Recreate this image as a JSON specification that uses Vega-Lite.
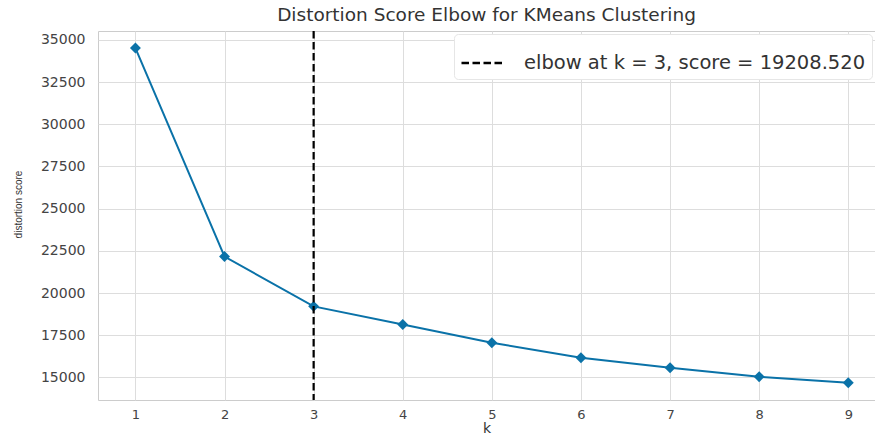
{
  "$schema": "https://vega.github.io/schema/vega-lite/v6.json",
  "autosize": "none",
  "width": 777,
  "height": 369,
  "padding": {"left": 98, "top": 31, "right": 0, "bottom": 35},
  "background": "white",
  "config": {
    "font": "DejaVu Sans",
    "view": {"stroke": "#cccccc", "strokeWidth": 1},
    "axis": {
      "gridColor": "#dddddd",
      "gridWidth": 1,
      "domain": false,
      "ticks": false,
      "labelFontSize": 14,
      "labelColor": "#444444",
      "titleColor": "#333333",
      "titleFontWeight": "normal"
    }
  },
  "title": {
    "text": "Distortion Score Elbow for KMeans Clustering",
    "fontSize": 18.5,
    "fontWeight": "normal",
    "color": "#333333",
    "offset": 5
  },
  "layer": [
    {
      "data": {"values": [
        {"k": 1, "score": 34520},
        {"k": 2, "score": 22160},
        {"k": 3, "score": 19208.52},
        {"k": 4, "score": 18130},
        {"k": 5, "score": 17050},
        {"k": 6, "score": 16160},
        {"k": 7, "score": 15570},
        {"k": 8, "score": 15040},
        {"k": 9, "score": 14680}
      ]},
      "mark": {
        "type": "line",
        "color": "#0a72a8",
        "strokeWidth": 2,
        "point": {"shape": "diamond", "size": 120, "filled": true, "color": "#0a72a8", "opacity": 1}
      },
      "encoding": {
        "x": {
          "field": "k", "type": "quantitative",
          "scale": {"domain": [0.58, 9.3], "nice": false, "zero": false},
          "axis": {"values": [1,2,3,4,5,6,7,8,9], "format": "d", "title": "k", "titleFontSize": 14, "labelFontSize": 13, "labelPadding": 8, "titlePadding": 0}
        },
        "y": {
          "field": "score", "type": "quantitative",
          "scale": {"domain": [13658, 35530], "nice": false, "zero": false},
          "axis": {"values": [15000,17500,20000,22500,25000,27500,30000,32500,35000], "format": "d", "title": "distortion score", "titleFont": "Liberation Sans", "titleFontSize": 10, "labelPadding": 13, "titlePadding": 17, "titleY": 173}
        }
      }
    },
    {
      "data": {"values": [{"k": 3, "label": "elbow at k = 3, score = 19208.520"}]},
      "mark": {"type": "rule", "color": "black", "strokeWidth": 2.2},
      "encoding": {
        "x": {"field": "k", "type": "quantitative"},
        "strokeDash": {
          "field": "label", "type": "nominal",
          "scale": {"range": [[7.5, 3.5]]},
          "legend": {
            "title": null,
            "orient": "top-right",
            "offset": 3,
            "padding": 6,
            "fillColor": "white",
            "strokeColor": "#e6e6e6",
            "cornerRadius": 4,
            "symbolType": "stroke",
            "symbolSize": 1850,
            "symbolStrokeWidth": 2.5,
            "symbolStrokeColor": "black",
            "symbolDash": [11, 5],
            "labelFontSize": 19.5,
            "labelColor": "#333333",
            "labelLimit": 600,
            "labelOffset": 18
          }
        }
      }
    }
  ]
}
